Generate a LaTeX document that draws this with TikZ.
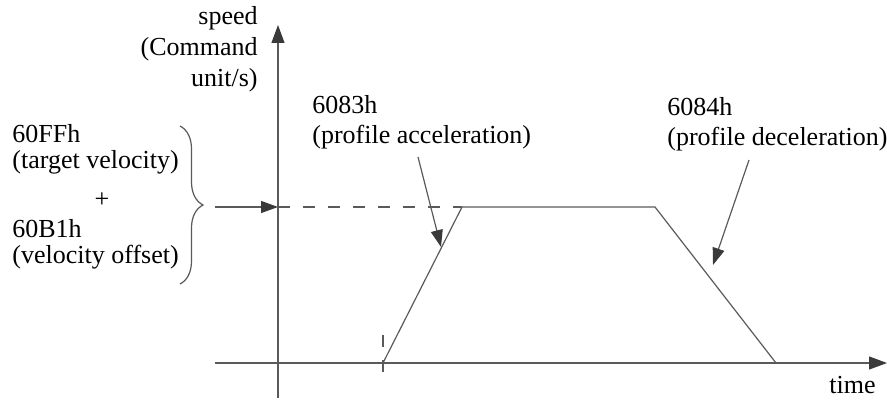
\documentclass[tikz,border=0pt]{standalone}
\usepackage{fontspec}
\setmainfont{Liberation Serif}
\usepackage{tikz}
\usetikzlibrary{arrows.meta,positioning,calc,decorations.pathreplacing}

\definecolor{linegray}{HTML}{5A5A5A}
\definecolor{headgray}{HTML}{3A3A3A}

\begin{document}
\begin{tikzpicture}[
    x=0.5pt, y=-0.5pt,
    lbl/.style={inner sep=0pt, font=\fontsize{13}{15}\selectfont},
    axis/.style={draw=linegray, line width=0.6pt, -{Triangle[length=9pt, width=6.5pt, color=headgray]}},
    pointer/.style={draw=linegray, line width=0.6pt, -{Triangle[length=8.5pt, width=6pt, color=headgray]}},
    profile/.style={draw=linegray, line width=0.6pt},
    guide/.style={draw=linegray, line width=0.6pt, dash pattern=on 6pt off 6.5pt},
    brace/.style={draw=linegray, line width=0.6pt, decorate, decoration={brace, amplitude=11.5pt}}
]
    \useasboundingbox (0,0) rectangle (887,401);

    % axes
    \coordinate (xstart) at (215,363);
    \coordinate (xend) at (887,363);
    \coordinate (ystart) at (278,398);
    \coordinate (yend) at (278,25);
    \draw[axis] (xstart) -- (xend);
    \draw[axis] (ystart) -- (yend);

    % velocity profile
    \coordinate (t0) at (383,363);
    \coordinate (t1) at (462,207);
    \coordinate (t2) at (655,207);
    \coordinate (t3) at (776,363);
    \draw[profile] (t0) -- (t1) -- (t2) -- (t3);

    % labels (base = last line)
    \node[lbl, anchor=base east, align=right] (spd) at (258,87) {speed\\[0.5pt](Command\\[0.5pt]unit/s)};
    \node[lbl, anchor=base west] (tgt) at (12,142) {60FFh};
    \node[lbl, anchor=base west] (tgtname) at (12,168) {(target velocity)};
    \node[lbl] (plus) at (102,200) {+};
    \node[lbl, anchor=base west] (off) at (12,237) {60B1h};
    \node[lbl, anchor=base west] (offname) at (12,263) {(velocity offset)};
    \node[lbl, anchor=base west, align=left] (acc) at (312,143) {6083h\\(profile acceleration)};
    \node[lbl, anchor=base west, align=left] (dec) at (667,145) {6084h\\(profile deceleration)};
    \node[lbl, anchor=base west] (time) at (829,393) {time};

    % brace and command input
    \draw[brace] (180,126) -- (180,284);
    \coordinate (in) at (215,207);
    \coordinate (yin) at (278,207);
    \draw[pointer] (in) -- (yin);
    \draw[guide] (yin) -- (t1);
    \draw[guide] (383,335) -- (t0 |- 0,376);

    % pointers to ramps
    \coordinate (acctip) at (441,247);
    \coordinate (dectip) at (713,265);
    \draw[pointer] (418,157) -- (acctip);
    \draw[pointer] (749,160) -- (dectip);
\end{tikzpicture}
\end{document}
